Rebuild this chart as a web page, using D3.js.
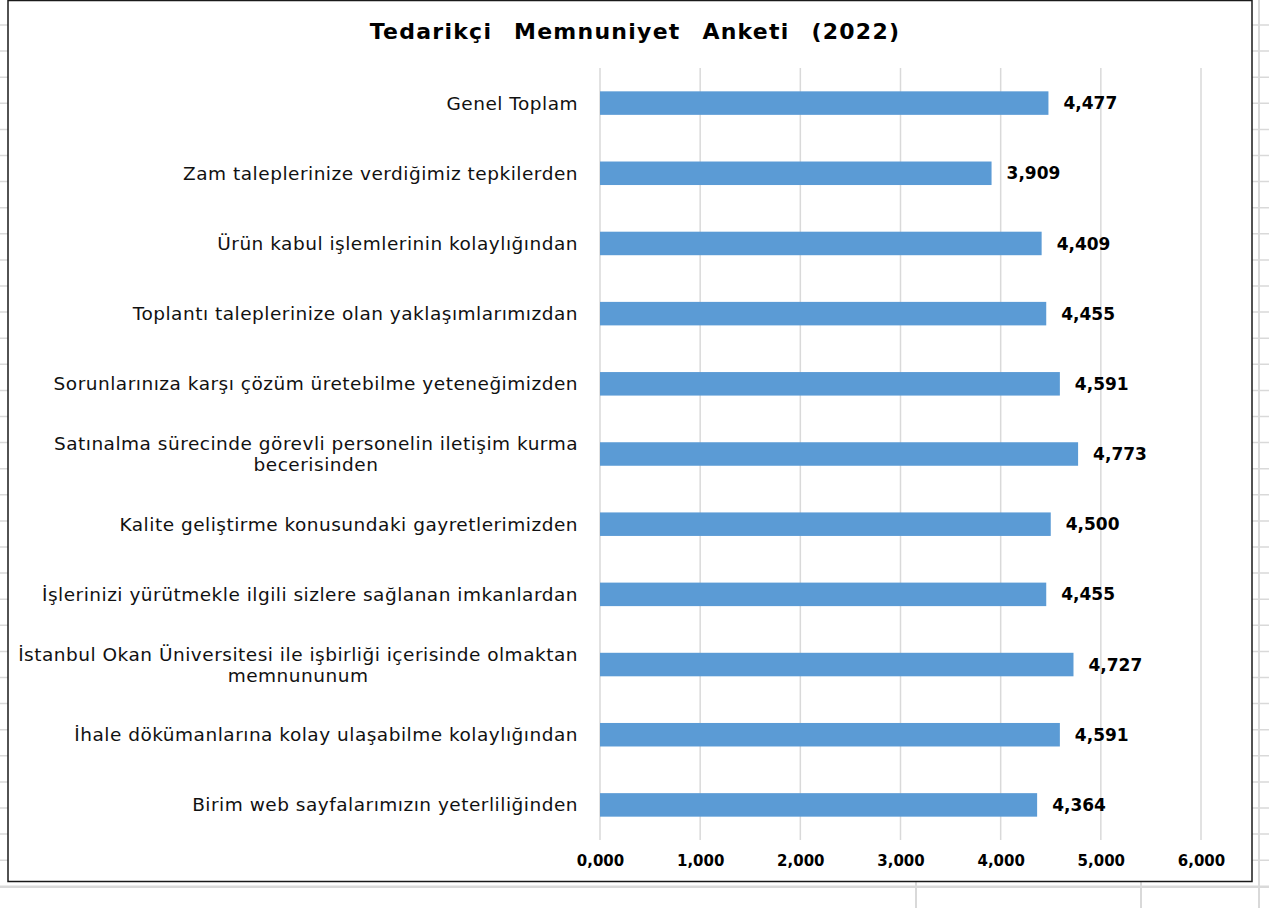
<!DOCTYPE html>
<html>
<head>
<meta charset="utf-8">
<script src="https://cdn.jsdelivr.net/npm/d3@7"></script>
<style>
  body { margin: 0; background: #fff; }
  svg { display: block; }
</style>
</head>
<body>
<svg id="chart"></svg>
<script>
// survey categories, top to bottom ("\n" = line break in label)
const categories = [
  'Genel Toplam',
  'Zam taleplerinize verdiğimiz tepkilerden',
  'Ürün kabul işlemlerinin kolaylığından',
  'Toplantı taleplerinize olan yaklaşımlarımızdan',
  'Sorunlarınıza karşı çözüm üretebilme yeteneğimizden',
  'Satınalma sürecinde görevli personelin iletişim kurma\nbecerisinden',
  'Kalite geliştirme konusundaki gayretlerimizden',
  'İşlerinizi yürütmekle ilgili sizlere sağlanan imkanlardan',
  'İstanbul Okan Üniversitesi ile işbirliği içerisinde olmaktan\nmemnununum',
  'İhale dökümanlarına kolay ulaşabilme kolaylığından',
  'Birim web sayfalarımızın yeterliliğinden'
];
const scores = [4.477, 3.909, 4.409, 4.455, 4.591, 4.773, 4.500, 4.455, 4.727, 4.591, 4.364];
const xTicks = [0, 1, 2, 3, 4, 5, 6];
const title = 'Tedarikçi  Memnuniyet  Anketi  (2022)';

const W = 1269, H = 908;
const svg = d3.select('#chart').attr('width', W).attr('height', H);

// spreadsheet cells behind the chart
const cellColor = '#d9d9d9';
const rowLines = d3.range(25, 890, 26.1);
svg.append('g').selectAll('line').data(rowLines).enter().append('line')
   .attr('x1', 0).attr('x2', W).attr('y1', d => d).attr('y2', d => d)
   .attr('stroke', cellColor).attr('stroke-width', 1.5);
svg.append('g').selectAll('line').data([916, 1141, 1259]).enter().append('line')
   .attr('x1', d => d).attr('x2', d => d).attr('y1', 0).attr('y2', H)
   .attr('stroke', cellColor).attr('stroke-width', 2);
svg.append('line').attr('x1', 0).attr('x2', W).attr('y1', 887).attr('y2', 887)
   .attr('stroke', cellColor).attr('stroke-width', 2);

// chart area
svg.append('rect')
   .attr('x', 8).attr('y', 0.5).attr('width', 1244).attr('height', 881)
   .attr('fill', '#fff').attr('stroke', '#1a1a1a').attr('stroke-width', 1.5);

svg.append('text')
   .attr('x', 635).attr('y', 39)
   .attr('text-anchor', 'middle')
   .style('font-family', 'DejaVu Sans, sans-serif')
   .style('font-weight', 'bold')
   .style('font-size', '22px')
   .style('letter-spacing', '1.25px')
   .style('word-spacing', '2px')
   .style('white-space', 'pre')
   .text(title);

const margin = { top: 68, left: 600 };
const plotW = 601, plotH = 772;

const g = svg.append('g').attr('transform', `translate(${margin.left},${margin.top})`);

const x = d3.scaleLinear().domain([0, 6]).range([0, plotW]);
const y = d3.scaleBand().domain(categories).range([0, plotH]).paddingInner(0.665).paddingOuter(0.3325);

// vertical gridlines
g.append('g').selectAll('line').data(xTicks).enter().append('line')
 .attr('x1', d => x(d)).attr('x2', d => x(d))
 .attr('y1', 0).attr('y2', plotH)
 .attr('stroke', '#d9d9d9').attr('stroke-width', 1.5);

// x axis labels
const xAxis = g.append('g')
  .attr('transform', `translate(0,${plotH + 12})`)
  .call(d3.axisBottom(x).tickValues(xTicks).tickSize(0).tickFormat(d => d3.format('.3f')(d).replace('.', ',')));
xAxis.select('.domain').remove();
xAxis.selectAll('text')
  .style('font-family', 'DejaVu Sans, sans-serif')
  .style('font-weight', 'bold')
  .style('font-size', '15px')
  .attr('fill', '#000');

// bars
g.selectAll('.bar').data(categories).enter().append('rect')
 .attr('class', 'bar')
 .attr('x', x(0))
 .attr('y', d => y(d))
 .attr('width', (d, i) => x(scores[i]) - x(0))
 .attr('height', y.bandwidth())
 .attr('fill', '#5b9bd5');

// value labels
g.selectAll('.val').data(categories).enter().append('text')
 .attr('class', 'val')
 .attr('x', (d, i) => x(scores[i]) + 15)
 .attr('y', d => y(d) + y.bandwidth() / 2)
 .attr('dy', '0.36em')
 .style('font-family', 'DejaVu Sans, sans-serif')
 .style('font-weight', 'bold')
 .style('font-size', '17px')
 .text((d, i) => d3.format('.3f')(scores[i]).replace('.', ','));

// category labels
const labelRight = -22;
const labels = g.selectAll('.cat').data(categories).enter().append('text')
  .attr('class', 'cat')
  .attr('text-anchor', 'middle')
  .style('font-family', 'DejaVu Sans, sans-serif')
  .style('font-size', '18.5px')
  .style('letter-spacing', '0.5px')
  .attr('fill', '#111');

labels.each(function (d) {
  const t = d3.select(this);
  const lines = d.split('\n');
  const cy = y(d) + y.bandwidth() / 2;
  const lh = 21;
  lines.forEach((line, i) => {
    t.append('tspan')
     .attr('y', cy + (i - (lines.length - 1) / 2) * lh)
     .attr('dy', '0.35em')
     .text(line);
  });
  // right-align the block, center the lines inside it
  let maxW = 0;
  t.selectAll('tspan').each(function () { maxW = Math.max(maxW, this.getComputedTextLength()); });
  t.selectAll('tspan').attr('x', labelRight - maxW / 2);
});
</script>
</body>
</html>
